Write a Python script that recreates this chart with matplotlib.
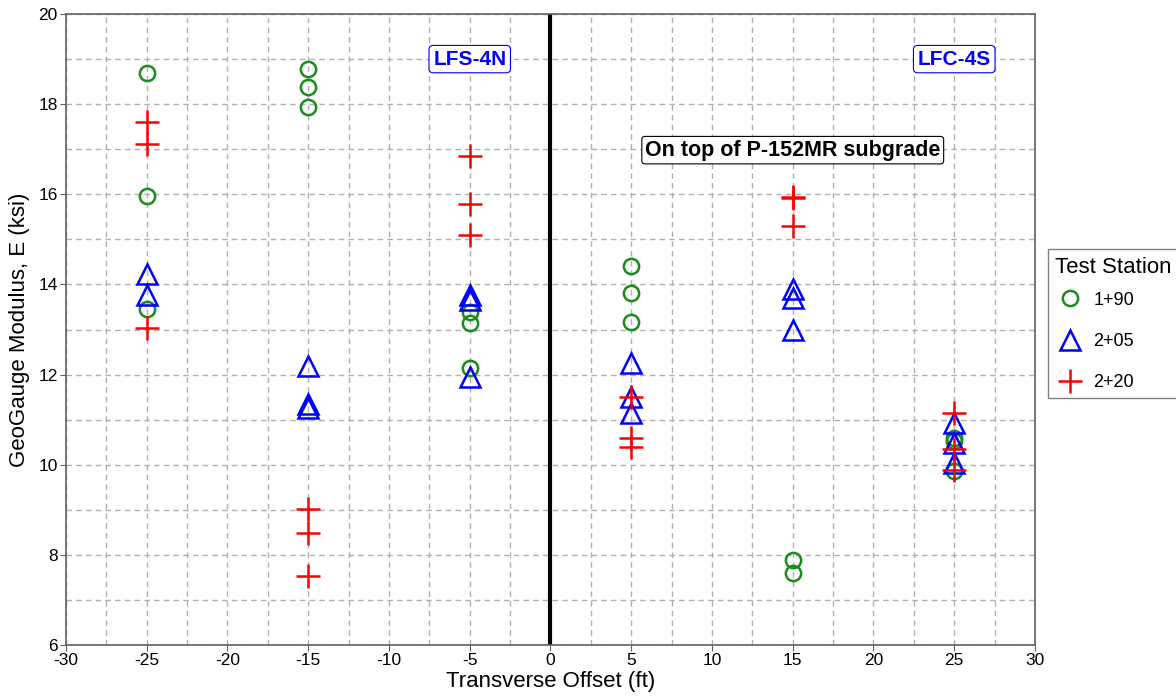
import numpy as np
import matplotlib.pyplot as plt
from matplotlib.ticker import MultipleLocator

plt.rcParams['font.family'] = ['Liberation Sans', 'DejaVu Sans']
plt.rcParams['axes.unicode_minus'] = False

# GeoGauge readings per test station (transverse offset in ft, modulus in ksi)
x_190 = [-25, -25, -25, -15, -15, -15, -5, -5, -5, 5, 5, 5, 15, 15, 25, 25, 25]
e_190 = [18.69, 15.96, 13.45, 18.78, 18.38, 17.94, 13.39, 13.14, 12.15,
         14.41, 13.80, 13.16, 7.89, 7.60, 10.59, 10.53, 9.87]

x_205 = [-25, -25, -15, -15, -15, -5, -5, -5, 5, 5, 5, 15, 15, 15, 25, 25, 25]
e_205 = [14.23, 13.77, 12.19, 11.35, 11.25, 13.77, 13.66, 11.95,
         12.26, 11.51, 11.14, 13.89, 13.69, 13.00, 10.92, 10.48, 10.04]

x_220 = [-25, -25, -25, -15, -15, -15, -5, -5, -5, 5, 5, 5, 15, 15, 15, 25, 25, 25]
e_220 = [17.60, 17.12, 13.03, 9.02, 8.48, 7.53, 16.85, 15.79, 15.10,
         11.51, 10.59, 10.40, 15.95, 15.92, 15.30, 11.14, 10.36, 9.88]

fig = plt.figure(figsize=(11.76, 6.98), dpi=100)
ax = fig.add_axes([0.0561, 0.0759, 0.824, 0.904])

ax.plot(x_190, e_190, 'o', ms=11, mfc='none', mec='#1a8c1a', mew=1.8, label='1+90', zorder=3)
ax.plot(x_205, e_205, '^', ms=15, mfc='none', mec='#0000ff', mew=1.8, label='2+05', zorder=3)
ax.plot(x_220, e_220, '+', ms=17, mec='#ff0000', mew=1.8, label='2+20', zorder=3)

# centreline
ax.axvline(0, color='black', lw=3, zorder=2)

ax.set_xlim(-30, 30)
ax.set_ylim(6, 20)
ax.xaxis.set_major_locator(MultipleLocator(5))
ax.xaxis.set_minor_locator(MultipleLocator(2.5))
ax.yaxis.set_major_locator(MultipleLocator(2))
ax.yaxis.set_minor_locator(MultipleLocator(1))
ax.grid(which='both', ls=(0, (4, 3)), color='#b0b0b0', lw=1)
ax.tick_params(which='major', direction='out', length=4, labelsize=12.5, color='#606060', pad=2)
ax.tick_params(which='minor', direction='out', length=0)
for sp in ax.spines.values():
    sp.set_color('#606060')
    sp.set_linewidth(1.2)

ax.set_xlabel('Transverse Offset (ft)', fontsize=16, labelpad=2)
ax.set_ylabel('GeoGauge Modulus, E (ksi)', fontsize=16, labelpad=6)

box_blue = dict(boxstyle='round,pad=0.2', fc='white', ec='#0000ff', lw=0.8)
ax.text(-5, 19.0, 'LFS-4N', color='#0000ff', fontsize=15, fontweight='bold',
        ha='center', va='center', bbox=box_blue)
ax.text(25, 19.0, 'LFC-4S', color='#0000ff', fontsize=15, fontweight='bold',
        ha='center', va='center', bbox=box_blue)
ax.text(15, 16.98, 'On top of P-152MR subgrade', color='black', fontsize=15.5, fontweight='bold',
        ha='center', va='center',
        bbox=dict(boxstyle='round,pad=0.15', fc='white', ec='black', lw=0.8))

leg = ax.legend(title='Test Station', loc='upper left', bbox_to_anchor=(1.0135, 0.627),
                fontsize=13, title_fontsize=16, frameon=True, fancybox=False,
                edgecolor='#606060', labelspacing=1.35, handletextpad=0.5, borderpad=0.4,
                handlelength=1.6, borderaxespad=0)
leg.get_frame().set_linewidth(1)
leg._legend_box.align = 'left'
leg._legend_box.sep = 10

fig.savefig('out.png', dpi=100)
